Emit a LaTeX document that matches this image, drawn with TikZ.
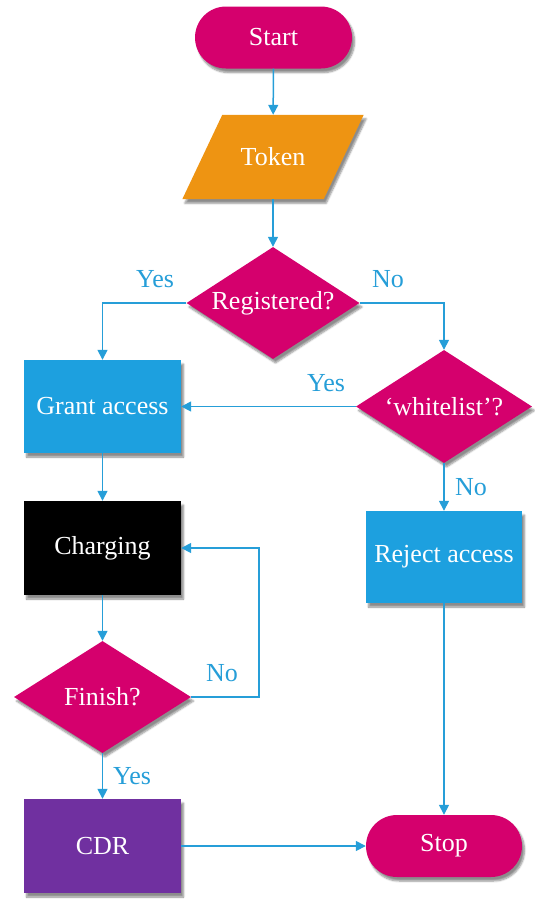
\documentclass[tikz,border=0pt]{standalone}
\usepackage{fontspec}
\setmainfont{Liberation Serif}
\usetikzlibrary{arrows.meta,shapes.geometric,shadows.blur}

\definecolor{magentaFill}{RGB}{213,0,109}
\definecolor{orangeFill}{RGB}{238,148,18}
\definecolor{blueFill}{RGB}{29,160,223}
\definecolor{purpleFill}{RGB}{112,48,160}
\definecolor{flowBlue}{RGB}{38,158,216}

\tikzset{
  softshadow/.style={blur shadow={shadow xshift=2.5pt, shadow yshift=-4pt,
    shadow blur steps=6, shadow opacity=45}},
  base/.style={inner sep=0pt, text=white, font=\fontsize{26}{30}\selectfont, softshadow},
  terminal/.style={base, rectangle, rounded corners=31pt, fill=magentaFill,
    minimum width=157pt, minimum height=62pt},
  inputbox/.style={inner sep=0pt, text=white, font=\fontsize{26}{30}\selectfont,
    rectangle, minimum width=141pt, minimum height=84pt},
  decision/.style={base, diamond, fill=magentaFill, shape aspect=1.55},
  process/.style={base, rectangle, minimum width=157pt, minimum height=94pt},
  flow/.style={draw=flowBlue, line width=1.5pt, -{Triangle[length=10pt,width=10pt]}},
  tag/.style={text=flowBlue, font=\fontsize{26}{30}\selectfont, inner sep=0pt}
}

\begin{document}
\begin{tikzpicture}[x=1pt, y=-1pt]
  \useasboundingbox (0,0) rectangle (535,900);

  % main column and branches
  \node[terminal] (start) at (273.5,37.5) {Start};
  % input parallelogram: slanted body drawn behind the text node
  \node[inputbox] (token) at (273,157) {};
  \path[fill=orangeFill, softshadow]
    ([xshift=20pt]token.north west) -- ([xshift=20pt]token.north east)
    -- ([xshift=-20pt]token.south east) -- ([xshift=-20pt]token.south west) -- cycle;
  \node[inputbox] at (token.center) {Token};
  \node[decision, minimum width=173pt, minimum height=112pt] (reg) at (273,303) {Registered?};
  \node[process, fill=blueFill, minimum height=93pt] (grant) at (102.5,406.5) {Grant access};
  \node[decision, minimum width=176pt, minimum height=113pt] (white) at (444,406.5) {‘whitelist’?};
  \node[process, fill=black] (charging) at (102.5,548) {Charging};
  \node[process, fill=blueFill, minimum width=156pt, minimum height=92pt] (reject) at (444,557) {Reject access};
  \node[decision, minimum width=177pt, minimum height=112pt] (finish) at (102.5,697) {Finish?};
  \node[process, fill=purpleFill] (cdr) at (102.5,846) {CDR};
  \node[terminal, minimum width=156pt] (stop) at (444,846) {Stop};

  % connectors
  \draw[flow] (start) -- (token);
  \draw[flow] (token) -- (reg);
  \draw[flow] (reg.west) -| (grant.north);
  \draw[flow] (reg.east) -| (white.north);
  \draw[flow] (white.west) -- (grant.east);
  \draw[flow] (grant) -- (charging);
  \draw[flow] (charging) -- (finish);
  \draw[flow] (finish.east) -- ++(68,0) |- (charging.east);
  \draw[flow] (finish) -- (cdr);
  \draw[flow] (white) -- (reject);
  \draw[flow] (reject) -- (stop);
  \draw[flow] (cdr) -- (stop);

  % branch labels
  \node[tag] (regyes) at (155,279) {Yes};
  \node[tag] (regno) at (388,279) {No};
  \node[tag] (whiteyes) at (326,383) {Yes};
  \node[tag] (whiteno) at (471,487) {No};
  \node[tag] (finishno) at (222,673) {No};
  \node[tag] (finishyes) at (132,776) {Yes};
\end{tikzpicture}
\end{document}
